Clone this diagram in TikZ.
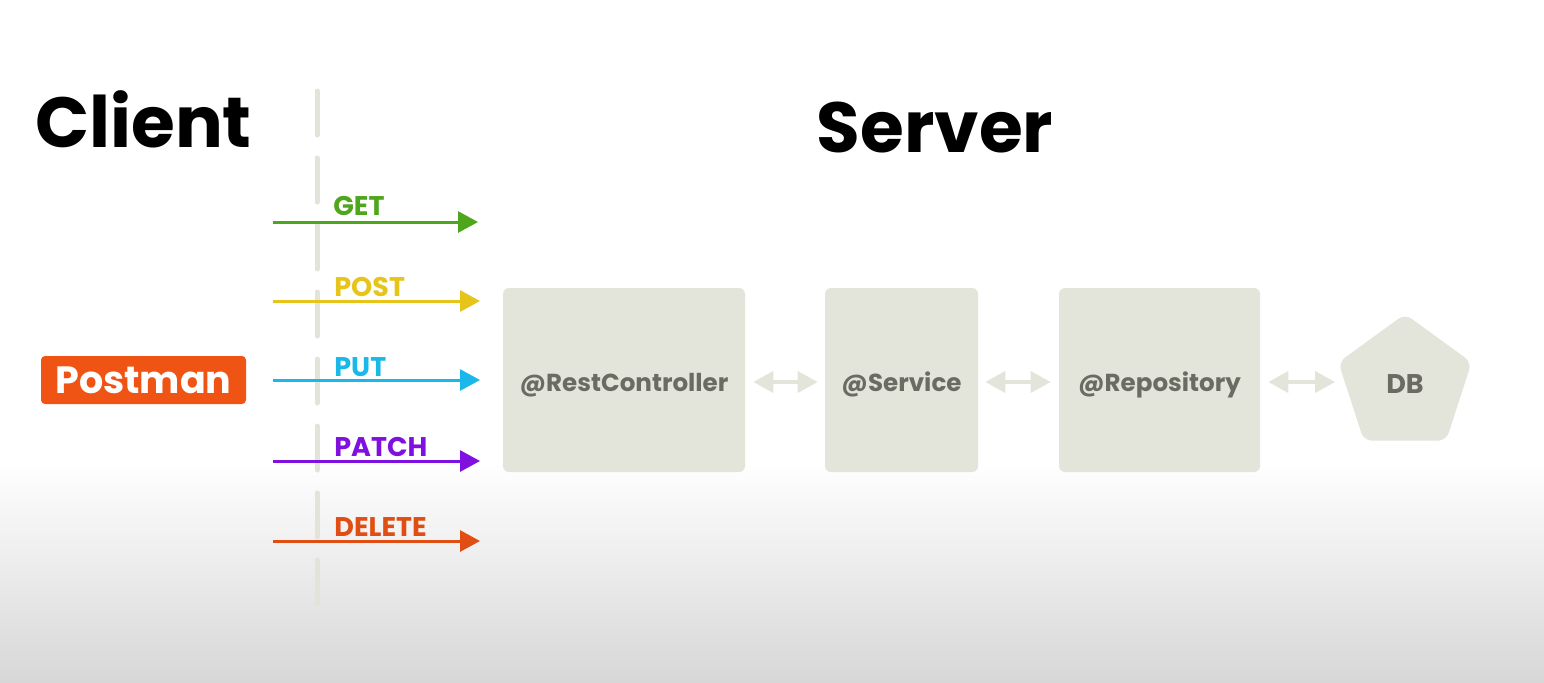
\documentclass[tikz,border=0pt]{standalone}
\usepackage{fontspec}
\setmainfont{Poppins}
\usetikzlibrary{arrows.meta,shapes.geometric}
\definecolor{getc}{HTML}{4EA61C}
\definecolor{postc}{HTML}{E6C41A}
\definecolor{putc}{HTML}{1AB8E8}
\definecolor{patchc}{HTML}{8010E0}
\definecolor{delc}{HTML}{E04E14}
\definecolor{pmc}{HTML}{F05414}
\definecolor{boxc}{HTML}{E3E4DA}
\definecolor{boxt}{HTML}{6B6B63}
\definecolor{dashc}{HTML}{E3E3DA}
\definecolor{bgbot}{HTML}{D7D7D7}
\tikzset{
  title/.style={font=\fontsize{35.5}{40}\selectfont\bfseries, text=black, inner sep=0pt},
  method/.style={font=\fontsize{13.5}{15}\selectfont\bfseries, inner sep=0pt, anchor=base west},
  marrow/.style={line width=1.5pt, -{Triangle[length=10pt,width=10.5pt]}},
  layer/.style={fill=boxc, rounded corners=3pt, minimum height=92pt, inner sep=0pt,
    font=\fontsize{12.3}{14}\selectfont\bfseries, text=boxt, text height=11.6pt, text depth=0pt},
  link/.style={draw=boxc, line width=2pt, {Triangle[length=10pt,width=10.5pt]}-{Triangle[length=10pt,width=10.5pt]}},
  divider/.style={draw=dashc, line width=2.5pt, line cap=round, dash pattern=on 22pt off 11.5pt},
}
\begin{document}
\begin{tikzpicture}[x=0.5pt,y=-0.5pt]
\useasboundingbox (0,0) rectangle (1544,682);
\fill[white] (0,0) rectangle (1544,462);
\shade[top color=white, bottom color=bgbot] (0,461) rectangle (1544,682);

\node[title, anchor=base west] (client) at (35,147) {Client};
\node[title, anchor=base] (server) at (935,152) {Server};

\draw[divider] (317,91) -- (317,605);

\node[fill=pmc, rounded corners=2pt, minimum width=102.5pt, minimum height=24pt, inner sep=0pt,
  font=\fontsize{19}{21}\selectfont\bfseries, text=white, text height=13.3pt, text depth=0pt] (postman) at (143.5,380) {Postman};

\coordinate (g0) at (273,222); \coordinate (g1) at (478,222);
\coordinate (p0) at (273,301); \coordinate (p1) at (480,301);
\coordinate (u0) at (273,380); \coordinate (u1) at (480,380);
\coordinate (a0) at (273,461); \coordinate (a1) at (480,461);
\coordinate (d0) at (273,541); \coordinate (d1) at (480,541);

\draw[marrow, getc] (g0) -- (g1);
\draw[marrow, postc] (p0) -- (p1);
\draw[marrow, putc] (u0) -- (u1);
\draw[marrow, patchc] (a0) -- (a1);
\draw[marrow, delc] (d0) -- (d1);

\node[method, text=getc] (lget) at (333,215) {GET};
\node[method, text=postc] (lpost) at (334,296) {POST};
\node[method, text=putc] (lput) at (334,376) {PUT};
\node[method, text=patchc] (lpatch) at (334,456) {PATCH};
\node[method, text=delc] (ldel) at (334,536) {DELETE};

\node[layer, minimum width=121pt] (rc) at (624,380) {@RestController};
\node[layer, minimum width=76.5pt] (svc) at (901.5,380) {@Service};
\node[layer, minimum width=100.5pt] (repo) at (1159.5,380) {@Repository};
\node[regular polygon, regular polygon sides=5, minimum size=70pt, inner sep=0pt,
  fill=boxc, rounded corners=4pt, font=\fontsize{13.5}{15}\selectfont\bfseries, text=boxt,
  text height=9.4pt, text depth=0pt] (db) at (1405,384) {DB};

\draw[link] ([xshift=4pt,yshift=-1pt]rc.east) -- ([xshift=-3.5pt,yshift=-1pt]svc.west);
\draw[link] ([xshift=3.5pt,yshift=-1pt]svc.east) -- ([xshift=-4pt,yshift=-1pt]repo.west);
\draw[link] ([xshift=4pt,yshift=-1pt]repo.east) -- (1335,382);
\end{tikzpicture}
\end{document}
